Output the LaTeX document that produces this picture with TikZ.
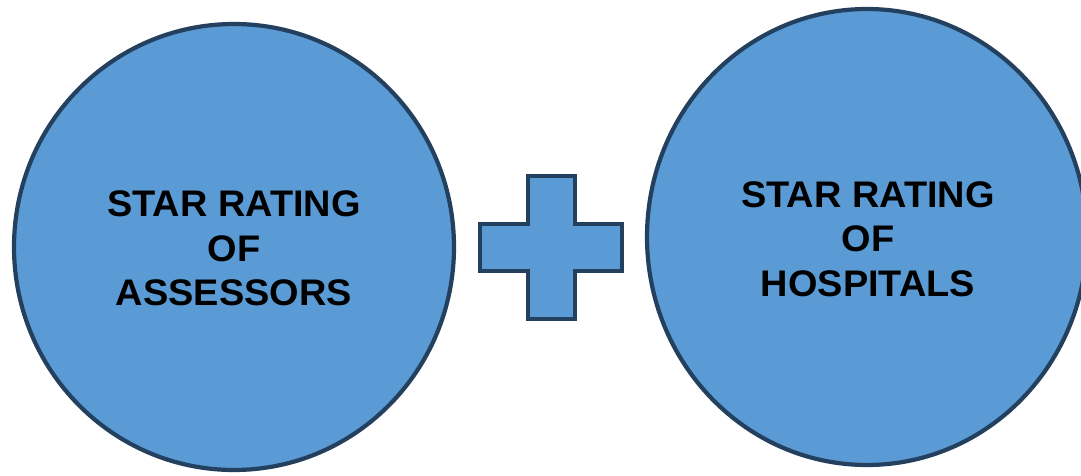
\documentclass[tikz,border=0pt]{standalone}
\usepackage{fontspec}
\setmainfont{Liberation Sans}
\definecolor{fillblue}{HTML}{5B9BD5}
\definecolor{edgeblue}{HTML}{23405E}
\begin{document}
\begin{tikzpicture}[x=1pt,y=-1pt,
  shapestyle/.style={fill=fillblue,draw=edgeblue,line width=4.2pt,line join=miter},
  label/.style={anchor=base,inner sep=0pt,font=\fontsize{37}{44}\selectfont\bfseries,text=black,xscale=1.025}]
\useasboundingbox (0,0) rectangle (1081,476);
\clip (0,0) rectangle (1081,476);
% left circle
\draw[shapestyle] (234,247) ellipse [x radius=220, y radius=223];
\coordinate (lc) at (234,247);
\node[label] (l1) at (234,216.5) {STAR RATING};
\node[label] (l2) at (234,261.5) {OF};
\node[label] (l3) at (234,305.5) {ASSESSORS};
% right circle
\draw[shapestyle] (867,237) ellipse [x radius=220, y radius=228];
\coordinate (rc) at (867,237);
\node[label] (r1) at (868,207) {STAR RATING};
\node[label] (r2) at (868,251.5) {OF};
\node[label] (r3) at (868,296) {HOSPITALS};
% plus
\draw[shapestyle] (528,176) -- (575,176) -- (575,224) -- (622,224) -- (622,271) -- (575,271) -- (575,319) -- (528,319) -- (528,271) -- (480,271) -- (480,224) -- (528,224) -- cycle;
\end{tikzpicture}
\end{document}
